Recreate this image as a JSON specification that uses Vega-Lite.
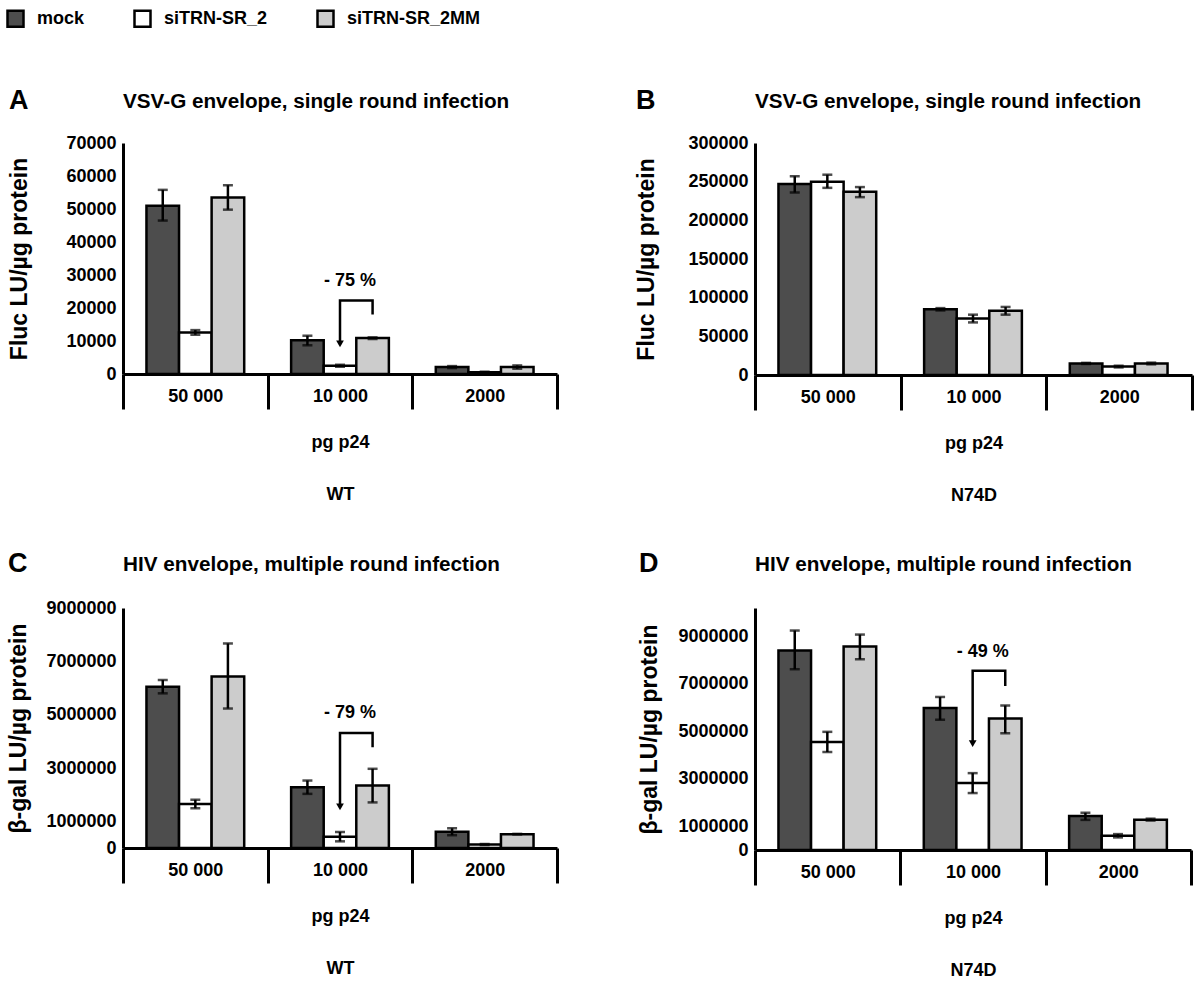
{
  "$schema": "https://vega.github.io/schema/vega-lite/v6.json",
  "padding": {"left": 6, "top": 9, "right": 5, "bottom": 5},
  "datasets": {
    "A": [
      {"dose": "50 000", "series": "mock", "value": 51000, "lo": 46500, "hi": 55800},
      {"dose": "50 000", "series": "siTRN-SR_2", "value": 12600, "lo": 11900, "hi": 13300},
      {"dose": "50 000", "series": "siTRN-SR_2MM", "value": 53500, "lo": 49800, "hi": 57200},
      {"dose": "10 000", "series": "mock", "value": 10200, "lo": 8700, "hi": 11600},
      {"dose": "10 000", "series": "siTRN-SR_2", "value": 2500, "lo": 2200, "hi": 2800},
      {"dose": "10 000", "series": "siTRN-SR_2MM", "value": 10900, "lo": 10600, "hi": 11100},
      {"dose": "2000", "series": "mock", "value": 2100, "lo": 1800, "hi": 2400},
      {"dose": "2000", "series": "siTRN-SR_2", "value": 500, "lo": 300, "hi": 700},
      {"dose": "2000", "series": "siTRN-SR_2MM", "value": 2100, "lo": 1600, "hi": 2600}
    ],
    "B": [
      {"dose": "50 000", "series": "mock", "value": 247000, "lo": 236000, "hi": 257000},
      {"dose": "50 000", "series": "siTRN-SR_2", "value": 250000, "lo": 242000, "hi": 259000},
      {"dose": "50 000", "series": "siTRN-SR_2MM", "value": 237000, "lo": 230000, "hi": 243000},
      {"dose": "10 000", "series": "mock", "value": 85000, "lo": 83500, "hi": 86500},
      {"dose": "10 000", "series": "siTRN-SR_2", "value": 73000, "lo": 68000, "hi": 78000},
      {"dose": "10 000", "series": "siTRN-SR_2MM", "value": 83000, "lo": 78000, "hi": 88000},
      {"dose": "2000", "series": "mock", "value": 15000, "lo": 14300, "hi": 15700},
      {"dose": "2000", "series": "siTRN-SR_2", "value": 11000, "lo": 9800, "hi": 12000},
      {"dose": "2000", "series": "siTRN-SR_2MM", "value": 15000, "lo": 13800, "hi": 16000}
    ],
    "C": [
      {"dose": "50 000", "series": "mock", "value": 6050000, "lo": 5800000, "hi": 6300000},
      {"dose": "50 000", "series": "siTRN-SR_2", "value": 1650000, "lo": 1490000, "hi": 1810000},
      {"dose": "50 000", "series": "siTRN-SR_2MM", "value": 6430000, "lo": 5230000, "hi": 7670000},
      {"dose": "10 000", "series": "mock", "value": 2280000, "lo": 2030000, "hi": 2530000},
      {"dose": "10 000", "series": "siTRN-SR_2", "value": 420000, "lo": 250000, "hi": 600000},
      {"dose": "10 000", "series": "siTRN-SR_2MM", "value": 2340000, "lo": 1710000, "hi": 2970000},
      {"dose": "2000", "series": "mock", "value": 610000, "lo": 480000, "hi": 740000},
      {"dose": "2000", "series": "siTRN-SR_2", "value": 130000, "lo": 110000, "hi": 150000},
      {"dose": "2000", "series": "siTRN-SR_2MM", "value": 520000, "lo": 510000, "hi": 530000}
    ],
    "D": [
      {"dose": "50 000", "series": "mock", "value": 8410000, "lo": 7620000, "hi": 9250000},
      {"dose": "50 000", "series": "siTRN-SR_2", "value": 4550000, "lo": 4130000, "hi": 4980000},
      {"dose": "50 000", "series": "siTRN-SR_2MM", "value": 8580000, "lo": 8040000, "hi": 9080000},
      {"dose": "10 000", "series": "mock", "value": 5990000, "lo": 5490000, "hi": 6450000},
      {"dose": "10 000", "series": "siTRN-SR_2", "value": 2820000, "lo": 2400000, "hi": 3240000},
      {"dose": "10 000", "series": "siTRN-SR_2MM", "value": 5540000, "lo": 4920000, "hi": 6090000},
      {"dose": "2000", "series": "mock", "value": 1430000, "lo": 1270000, "hi": 1570000},
      {"dose": "2000", "series": "siTRN-SR_2", "value": 600000, "lo": 530000, "hi": 670000},
      {"dose": "2000", "series": "siTRN-SR_2MM", "value": 1280000, "lo": 1240000, "hi": 1320000}
    ]
  },
  "spacing": 45,
  "vconcat": [
    {
      "spacing": 76,
      "hconcat": [
        {
          "title": {"text": "A", "anchor": "start", "frame": "bounds", "fontSize": 27, "offset": -24},
          "vconcat": [
            {
              "width": 434, "height": 231,
              "title": {"text": "VSV-G envelope, single round infection", "offset": 21, "frame": "group"},
              "encoding": {
                "x": {"field": "dose", "type": "nominal", "scale": {"domain": ["50 000", "10 000", "2000"], "paddingInner": 0, "paddingOuter": 0}, "axis": {"title": ["pg p24", "WT"]}},
                "xOffset": {"field": "series", "type": "nominal", "scale": {"domain": ["mock", "siTRN-SR_2", "siTRN-SR_2MM"], "paddingInner": 0, "paddingOuter": 0.72}}
              },
              "layer": [
                {"data": {"name": "A"}, "mark": {"type": "bar", "stroke": "black", "strokeWidth": 2.5},
                 "encoding": {
                   "y": {"field": "value", "type": "quantitative", "scale": {"domain": [0, 70000], "nice": false}, "axis": {"title": "Fluc LU/µg protein", "values": [0, 10000, 20000, 30000, 40000, 50000, 60000, 70000], "tickCount": 20, "format": "d", "titlePadding": 34, "labelOverlap": false}},
                   "color": {"field": "series", "type": "nominal", "scale": {"domain": ["mock", "siTRN-SR_2", "siTRN-SR_2MM"], "range": ["#4d4d4d", "#ffffff", "#cccccc"]}, "legend": {"title": null}}
                 }},
                {"data": {"name": "A"}, "mark": {"type": "rule", "color": "black", "strokeWidth": 2.5}, "encoding": {"y": {"field": "lo", "type": "quantitative"}, "y2": {"field": "hi"}}},
                {"data": {"name": "A"}, "mark": {"type": "tick", "color": "black", "thickness": 2.5, "size": 10}, "encoding": {"y": {"field": "lo", "type": "quantitative"}}},
                {"data": {"name": "A"}, "mark": {"type": "tick", "color": "black", "thickness": 2.5, "size": 10}, "encoding": {"y": {"field": "hi", "type": "quantitative"}}},
                {"data": {"values": [
                  {"dose": "10 000", "series": "siTRN-SR_2", "y": 9100, "o": 1},
                  {"dose": "10 000", "series": "siTRN-SR_2", "y": 22300, "o": 2},
                  {"dose": "10 000", "series": "siTRN-SR_2MM", "y": 22300, "o": 3},
                  {"dose": "10 000", "series": "siTRN-SR_2MM", "y": 18000, "o": 4}
                 ]}, "mark": {"type": "line", "color": "black", "strokeWidth": 2.5, "strokeJoin": "miter", "strokeCap": "butt"},
                 "encoding": {"y": {"field": "y", "type": "quantitative"}, "order": {"field": "o", "type": "quantitative"}}},
                {"data": {"values": [{"dose": "10 000", "series": "siTRN-SR_2", "y": 9100}]}, "mark": {"type": "point", "shape": "triangle-down", "filled": true, "color": "black", "size": 60, "opacity": 1},
                 "encoding": {"y": {"field": "y", "type": "quantitative"}}},
                {"data": {"values": [{"dose": "10 000", "series": "siTRN-SR_2", "y": 28200, "label": "- 75 %"}]}, "mark": {"type": "text", "fontSize": 18, "fontWeight": "bold", "dx": 10, "color": "black"},
                 "encoding": {"y": {"field": "y", "type": "quantitative"}, "text": {"field": "label"}}}
              ]
            }
          ]
        },
        {
          "title": {"text": "B", "anchor": "start", "frame": "bounds", "fontSize": 27, "offset": -24},
          "vconcat": [
            {
              "width": 437, "height": 232,
              "title": {"text": "VSV-G envelope, single round infection", "offset": 21, "frame": "group"},
              "encoding": {
                "x": {"field": "dose", "type": "nominal", "scale": {"domain": ["50 000", "10 000", "2000"], "paddingInner": 0, "paddingOuter": 0}, "axis": {"title": ["pg p24", "N74D"]}},
                "xOffset": {"field": "series", "type": "nominal", "scale": {"domain": ["mock", "siTRN-SR_2", "siTRN-SR_2MM"], "paddingInner": 0, "paddingOuter": 0.72}}
              },
              "layer": [
                {"data": {"name": "B"}, "mark": {"type": "bar", "stroke": "black", "strokeWidth": 2.5},
                 "encoding": {
                   "y": {"field": "value", "type": "quantitative", "scale": {"domain": [0, 300000], "nice": false}, "axis": {"title": "Fluc LU/µg protein", "values": [0, 50000, 100000, 150000, 200000, 250000, 300000], "tickCount": 20, "format": "d", "titlePadding": 29, "labelOverlap": false}},
                   "color": {"field": "series", "type": "nominal", "scale": {"domain": ["mock", "siTRN-SR_2", "siTRN-SR_2MM"], "range": ["#4d4d4d", "#ffffff", "#cccccc"]}, "legend": {"title": null}}
                 }},
                {"data": {"name": "B"}, "mark": {"type": "rule", "color": "black", "strokeWidth": 2.5}, "encoding": {"y": {"field": "lo", "type": "quantitative"}, "y2": {"field": "hi"}}},
                {"data": {"name": "B"}, "mark": {"type": "tick", "color": "black", "thickness": 2.5, "size": 10}, "encoding": {"y": {"field": "lo", "type": "quantitative"}}},
                {"data": {"name": "B"}, "mark": {"type": "tick", "color": "black", "thickness": 2.5, "size": 10}, "encoding": {"y": {"field": "hi", "type": "quantitative"}}}
              ]
            }
          ]
        }
      ]
    },
    {
      "spacing": 79,
      "hconcat": [
        {
          "title": {"text": "C", "anchor": "start", "frame": "bounds", "fontSize": 27, "offset": -24},
          "vconcat": [
            {
              "width": 434, "height": 240,
              "title": {"text": "HIV envelope, multiple round infection", "offset": 23, "frame": "group"},
              "encoding": {
                "x": {"field": "dose", "type": "nominal", "scale": {"domain": ["50 000", "10 000", "2000"], "paddingInner": 0, "paddingOuter": 0}, "axis": {"title": ["pg p24", "WT"]}},
                "xOffset": {"field": "series", "type": "nominal", "scale": {"domain": ["mock", "siTRN-SR_2", "siTRN-SR_2MM"], "paddingInner": 0, "paddingOuter": 0.72}}
              },
              "layer": [
                {"data": {"name": "C"}, "mark": {"type": "bar", "stroke": "black", "strokeWidth": 2.5},
                 "encoding": {
                   "y": {"field": "value", "type": "quantitative", "scale": {"domain": [0, 9000000], "nice": false}, "axis": {"title": "β-gal LU/µg protein", "values": [0, 1000000, 3000000, 5000000, 7000000, 9000000], "tickCount": 20, "format": "d", "titlePadding": 15, "labelOverlap": false}},
                   "color": {"field": "series", "type": "nominal", "scale": {"domain": ["mock", "siTRN-SR_2", "siTRN-SR_2MM"], "range": ["#4d4d4d", "#ffffff", "#cccccc"]}, "legend": {"title": null}}
                 }},
                {"data": {"name": "C"}, "mark": {"type": "rule", "color": "black", "strokeWidth": 2.5}, "encoding": {"y": {"field": "lo", "type": "quantitative"}, "y2": {"field": "hi"}}},
                {"data": {"name": "C"}, "mark": {"type": "tick", "color": "black", "thickness": 2.5, "size": 10}, "encoding": {"y": {"field": "lo", "type": "quantitative"}}},
                {"data": {"name": "C"}, "mark": {"type": "tick", "color": "black", "thickness": 2.5, "size": 10}, "encoding": {"y": {"field": "hi", "type": "quantitative"}}},
                {"data": {"values": [
                  {"dose": "10 000", "series": "siTRN-SR_2", "y": 1540000, "o": 1},
                  {"dose": "10 000", "series": "siTRN-SR_2", "y": 4310000, "o": 2},
                  {"dose": "10 000", "series": "siTRN-SR_2MM", "y": 4310000, "o": 3},
                  {"dose": "10 000", "series": "siTRN-SR_2MM", "y": 3780000, "o": 4}
                 ]}, "mark": {"type": "line", "color": "black", "strokeWidth": 2.5, "strokeJoin": "miter", "strokeCap": "butt"},
                 "encoding": {"y": {"field": "y", "type": "quantitative"}, "order": {"field": "o", "type": "quantitative"}}},
                {"data": {"values": [{"dose": "10 000", "series": "siTRN-SR_2", "y": 1540000}]}, "mark": {"type": "point", "shape": "triangle-down", "filled": true, "color": "black", "size": 60, "opacity": 1},
                 "encoding": {"y": {"field": "y", "type": "quantitative"}}},
                {"data": {"values": [{"dose": "10 000", "series": "siTRN-SR_2", "y": 5070000, "label": "- 79 %"}]}, "mark": {"type": "text", "fontSize": 18, "fontWeight": "bold", "dx": 10, "color": "black"},
                 "encoding": {"y": {"field": "y", "type": "quantitative"}, "text": {"field": "label"}}}
              ]
            }
          ]
        },
        {
          "title": {"text": "D", "anchor": "start", "frame": "bounds", "fontSize": 27, "offset": -24},
          "vconcat": [
            {
              "width": 436, "height": 242,
              "title": {"text": "HIV envelope, multiple round infection", "offset": 32, "frame": "group"},
              "encoding": {
                "x": {"field": "dose", "type": "nominal", "scale": {"domain": ["50 000", "10 000", "2000"], "paddingInner": 0, "paddingOuter": 0}, "axis": {"title": ["pg p24", "N74D"]}},
                "xOffset": {"field": "series", "type": "nominal", "scale": {"domain": ["mock", "siTRN-SR_2", "siTRN-SR_2MM"], "paddingInner": 0, "paddingOuter": 0.72}}
              },
              "layer": [
                {"data": {"name": "D"}, "mark": {"type": "bar", "stroke": "black", "strokeWidth": 2.5},
                 "encoding": {
                   "y": {"field": "value", "type": "quantitative", "scale": {"domain": [0, 10200000], "nice": false}, "axis": {"title": "β-gal LU/µg protein", "values": [0, 1000000, 3000000, 5000000, 7000000, 9000000], "tickCount": 20, "format": "d", "titlePadding": 16, "labelOverlap": false}},
                   "color": {"field": "series", "type": "nominal", "scale": {"domain": ["mock", "siTRN-SR_2", "siTRN-SR_2MM"], "range": ["#4d4d4d", "#ffffff", "#cccccc"]}, "legend": {"title": null}}
                 }},
                {"data": {"name": "D"}, "mark": {"type": "rule", "color": "black", "strokeWidth": 2.5}, "encoding": {"y": {"field": "lo", "type": "quantitative"}, "y2": {"field": "hi"}}},
                {"data": {"name": "D"}, "mark": {"type": "tick", "color": "black", "thickness": 2.5, "size": 10}, "encoding": {"y": {"field": "lo", "type": "quantitative"}}},
                {"data": {"name": "D"}, "mark": {"type": "tick", "color": "black", "thickness": 2.5, "size": 10}, "encoding": {"y": {"field": "hi", "type": "quantitative"}}},
                {"data": {"values": [
                  {"dose": "10 000", "series": "siTRN-SR_2", "y": 4480000, "o": 1},
                  {"dose": "10 000", "series": "siTRN-SR_2", "y": 7550000, "o": 2},
                  {"dose": "10 000", "series": "siTRN-SR_2MM", "y": 7550000, "o": 3},
                  {"dose": "10 000", "series": "siTRN-SR_2MM", "y": 6910000, "o": 4}
                 ]}, "mark": {"type": "line", "color": "black", "strokeWidth": 2.5, "strokeJoin": "miter", "strokeCap": "butt"},
                 "encoding": {"y": {"field": "y", "type": "quantitative"}, "order": {"field": "o", "type": "quantitative"}}},
                {"data": {"values": [{"dose": "10 000", "series": "siTRN-SR_2", "y": 4480000}]}, "mark": {"type": "point", "shape": "triangle-down", "filled": true, "color": "black", "size": 60, "opacity": 1},
                 "encoding": {"y": {"field": "y", "type": "quantitative"}}},
                {"data": {"values": [{"dose": "10 000", "series": "siTRN-SR_2", "y": 8340000, "label": "- 49 %"}]}, "mark": {"type": "text", "fontSize": 18, "fontWeight": "bold", "dx": 10, "color": "black"},
                 "encoding": {"y": {"field": "y", "type": "quantitative"}, "text": {"field": "label"}}}
              ]
            }
          ]
        }
      ]
    }
  ],
  "config": {
    "font": "Liberation Sans",
    "view": {"stroke": null},
    "axis": {"grid": false, "domainColor": "black", "domainWidth": 3, "labelColor": "black", "labelFontWeight": "bold", "labelFontSize": 18, "labelFont": "Liberation Sans", "titleColor": "black", "titleFontWeight": "bold", "titleFont": "Liberation Sans"},
    "axisY": {"ticks": false, "labelPadding": 7, "titleFontSize": 23, "labelOverlap": false},
    "axisX": {"tickBand": "extent", "tickSize": 35, "tickWidth": 3, "tickColor": "black", "labelAngle": 0, "labelPadding": -22, "titleFontSize": 18, "titlePadding": 23, "titleLineHeight": 52},
    "title": {"fontWeight": "bold", "color": "black", "fontSize": 20.7, "anchor": "start", "font": "Liberation Sans"},
    "legend": {"orient": "none", "legendX": -117, "legendY": -134, "direction": "horizontal", "symbolType": "square", "symbolSize": 256, "symbolStrokeColor": "black", "symbolStrokeWidth": 2.5, "labelFontSize": 18, "labelFontWeight": "bold", "labelColor": "black", "labelFont": "Liberation Sans", "columnPadding": 44, "labelOffset": 12}
  }
}
